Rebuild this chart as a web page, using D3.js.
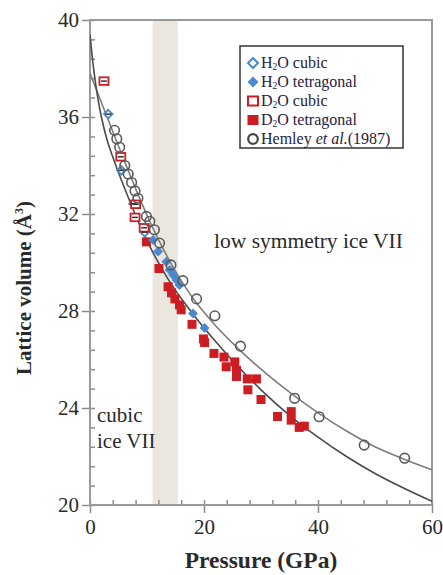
<!DOCTYPE html>
<html><head><meta charset="utf-8">
<script src="https://cdn.jsdelivr.net/npm/d3@7"></script>
<style>html,body{margin:0;padding:0;background:#fff;}svg{display:block;}</style>
</head><body>
<svg id="c" width="443" height="575"></svg>
<script>
// ---- data (pressure GPa, lattice volume Å^3) ----
const xMajorTicks = [0, 20, 40, 60];
const yMajorTicks = [20, 24, 28, 32, 36, 40];
const transitionBand = [11.0, 15.4];

const h2oCubic = [[3.2, 36.12], [5.5, 33.8], [7.6, 32.42], [9.6, 31.25]];
const h2oTetragonal = [[11.07, 30.93], [11.95, 30.45], [13.4, 30.03], [14.0, 29.69], [14.6, 29.48],
  [15.2, 29.28], [15.7, 29.07], [18.07, 27.9], [20.1, 27.3]];
const d2oCubic = [[2.45, 37.48], [5.4, 34.36], [8.0, 32.4], [7.9, 31.86], [9.5, 31.43]];
const d2oTetragonal = [[9.9, 30.85], [12.1, 29.75], [13.7, 29.0], [14.3, 28.75], [14.9, 28.5],
  [15.7, 28.25], [16.0, 28.05], [17.9, 27.45], [19.9, 26.85], [20.1, 26.7], [21.75, 26.25],
  [23.5, 26.1], [23.9, 25.7], [25.4, 25.9], [25.7, 25.55], [25.7, 25.3], [27.6, 25.2],
  [29.2, 25.2], [27.7, 24.75], [30.0, 24.35], [32.9, 23.65], [35.3, 23.85], [35.3, 23.5],
  [36.7, 23.2], [37.6, 23.25]];
const hemley = [[4.3, 35.45], [4.7, 35.1], [5.2, 34.75], [6.1, 34.0], [6.7, 33.65], [7.3, 33.3],
  [7.9, 32.95], [8.4, 32.65], [9.9, 31.9], [10.5, 31.7], [11.3, 31.35], [12.2, 30.8],
  [14.2, 29.9], [16.3, 29.25], [18.7, 28.5], [21.9, 27.8], [26.4, 26.55], [35.9, 24.4],
  [40.2, 23.64], [48.1, 22.47], [55.2, 21.93]];
// fitted curves
const fitUpper = [[0, 37.8], [2, 36.6], [4, 35.4], [6, 34.2], [8, 33.05], [10, 31.95], [12, 30.95],
  [14, 30.05], [16, 29.25], [18, 28.55], [20, 27.95], [22, 27.4], [26, 26.45], [30, 25.6],
  [35, 24.65], [40, 23.8], [45, 23.05], [50, 22.4], [55, 21.9], [60, 21.45]];
const fitLower = [[0, 39.4], [0.5, 38.25], [1, 37.35], [1.5, 36.6], [2, 36.0], [3, 35.05], [4, 34.35],
  [6, 33.1], [8, 31.95], [10, 30.9], [14, 29.2], [18, 27.9], [22, 26.75], [26, 25.7], [30, 24.75],
  [35, 23.7], [40, 22.8], [45, 22.0], [50, 21.3], [55, 20.7], [60, 20.15]];

// ---- layout ----
const svg = d3.select("#c");
const L = 90, R = 432, T = 20, B = 505;
const x = d3.scaleLinear().domain([0, 60]).range([L, R]);
const y = d3.scaleLinear().domain([20, 40]).range([B, T]);
const serif = "'Liberation Serif','Times New Roman',serif";
const BLUE = "#4a88cf", RED = "#cc1d23", TXT = "#2a2a2a";

svg.append("defs").append("clipPath").attr("id", "clip")
  .append("rect").attr("x", L).attr("y", T).attr("width", R - L).attr("height", B - T);

// band
svg.append("rect").attr("x", x(transitionBand[0])).attr("y", T)
  .attr("width", x(transitionBand[1]) - x(transitionBand[0])).attr("height", B - T)
  .attr("fill", "#ebe7df");

// axes
const xMinor = d3.range(0, 60.001, 4);
const yMinor = d3.range(20, 40.001, 0.8);
const xAxis = svg.append("g").attr("transform", `translate(0,${B})`)
  .call(d3.axisBottom(x).tickValues(xMinor).tickSize(-5).tickFormat(""));
const xAxis2 = svg.append("g").attr("transform", `translate(0,${B})`)
  .call(d3.axisBottom(x).tickValues(xMajorTicks).tickSize(8).tickPadding(6).tickFormat(d3.format("d")));
const yAxis = svg.append("g").attr("transform", `translate(${L},0)`)
  .call(d3.axisLeft(y).tickValues(yMinor).tickSize(-5).tickFormat(""));
const yAxis2 = svg.append("g").attr("transform", `translate(${L},0)`)
  .call(d3.axisLeft(y).tickValues(yMajorTicks).tickSize(8).tickPadding(3).tickFormat(d3.format("d")));
[xAxis, xAxis2, yAxis, yAxis2].forEach(g => {
  g.select(".domain").remove();
  g.selectAll("line").attr("stroke", "#8c8c8c").attr("stroke-width", 1.5);
  g.selectAll("text").attr("font-family", serif).attr("font-size", 21).attr("fill", TXT);
});

// frame
svg.append("rect").attr("x", L).attr("y", T).attr("width", R - L).attr("height", B - T)
  .attr("fill", "none").attr("stroke", "#999").attr("stroke-width", 2);

// curves
const line = d3.line().x(d => x(d[0])).y(d => y(d[1])).curve(d3.curveMonotoneX);
const cg = svg.append("g").attr("clip-path", "url(#clip)");
cg.append("path").datum(fitUpper).attr("d", line).attr("fill", "none").attr("stroke", "#7d7d7d").attr("stroke-width", 1.6);
cg.append("path").datum(fitLower).attr("d", line).attr("fill", "none").attr("stroke", "#4a4a4a").attr("stroke-width", 1.6);

// markers
const diamond = s => `M0,${-s}L${s},0L0,${s}L${-s},0Z`;
const g = svg.append("g");
g.selectAll(".dt").data(d2oTetragonal).join("rect")
  .attr("x", d => x(d[0]) - 4.5).attr("y", d => y(d[1]) - 4.5).attr("width", 9).attr("height", 9)
  .attr("fill", RED);
g.selectAll(".ht").data(h2oTetragonal).join("path")
  .attr("transform", d => `translate(${x(d[0])},${y(d[1])})`).attr("d", diamond(5)).attr("fill", BLUE);
g.selectAll(".hc").data(h2oCubic).join("path")
  .attr("transform", d => `translate(${x(d[0])},${y(d[1])})`).attr("d", diamond(4.3))
  .attr("fill", "#fff").attr("stroke", BLUE).attr("stroke-width", 1.8);
g.selectAll(".dc").data(d2oCubic).join("rect")
  .attr("x", d => x(d[0]) - 4.5).attr("y", d => y(d[1]) - 3.8).attr("width", 9).attr("height", 7.6)
  .attr("fill", "#fff").attr("stroke", RED).attr("stroke-width", 1.8);
g.selectAll(".eb").data(h2oCubic.concat(d2oCubic)).join("line")
  .attr("x1", d => x(d[0]) - 3).attr("x2", d => x(d[0]) + 3)
  .attr("y1", d => y(d[1])).attr("y2", d => y(d[1])).attr("stroke", "#333").attr("stroke-width", 1.5);
g.selectAll(".hm").data(hemley).join("circle")
  .attr("cx", d => x(d[0])).attr("cy", d => y(d[1])).attr("r", 4.8)
  .attr("fill", "none").attr("stroke", "#5a5a5a").attr("stroke-width", 1.6);

// annotations
svg.append("text").attr("x", 214).attr("y", 248).attr("font-family", serif).attr("font-size", 21.5)
  .attr("fill", TXT).text("low symmetry ice VII");
svg.append("text").attr("x", 97).attr("y", 422).attr("font-family", serif).attr("font-size", 21)
  .attr("fill", TXT).text("cubic");
svg.append("text").attr("x", 97).attr("y", 448).attr("font-family", serif).attr("font-size", 21)
  .attr("fill", TXT).text("ice VII");

// axis titles
svg.append("text").attr("x", 261).attr("y", 568).attr("text-anchor", "middle")
  .attr("font-family", serif).attr("font-size", 23.5).attr("font-weight", "bold").attr("fill", TXT)
  .text("Pressure (GPa)");
const yt = svg.append("text").attr("transform", "translate(31,288) rotate(-90)").attr("text-anchor", "middle")
  .attr("font-family", serif).attr("font-size", 21).attr("font-weight", "bold").attr("fill", TXT);
yt.append("tspan").text("Lattice volume (Å");
yt.append("tspan").attr("font-size", 12).attr("dy", -8).text("3");
yt.append("tspan").attr("dy", 8).text(")");

// legend
const lg = svg.append("g");
lg.append("rect").attr("x", 240).attr("y", 46).attr("width", 163).attr("height", 102)
  .attr("fill", "#fff").attr("stroke", "#333").attr("stroke-width", 1.5);
const legendItems = [
  {pre: "H", sub: "2", post: "O cubic", kind: "hc"},
  {pre: "H", sub: "2", post: "O tetragonal", kind: "ht"},
  {pre: "D", sub: "2", post: "O cubic", kind: "dc"},
  {pre: "D", sub: "2", post: "O tetragonal", kind: "dt"},
  {pre: "Hemley ", it: "et al.", post: "(1987)", kind: "hm"}
];
legendItems.forEach((it, i) => {
  const by = 68 + i * 19, cy = by - 5, cx = 253;
  if (it.kind === "hc") lg.append("path").attr("transform", `translate(${cx},${cy})`).attr("d", diamond(5)).attr("fill", "#fff").attr("stroke", BLUE).attr("stroke-width", 2);
  if (it.kind === "ht") lg.append("path").attr("transform", `translate(${cx},${cy})`).attr("d", diamond(5.5)).attr("fill", BLUE);
  if (it.kind === "dc") lg.append("rect").attr("x", cx - 5).attr("y", cy - 4.5).attr("width", 10).attr("height", 9).attr("fill", "#fff").attr("stroke", RED).attr("stroke-width", 2);
  if (it.kind === "dt") lg.append("rect").attr("x", cx - 5.5).attr("y", cy - 5).attr("width", 11).attr("height", 10).attr("fill", RED);
  if (it.kind === "hm") lg.append("circle").attr("cx", cx).attr("cy", cy).attr("r", 4.8).attr("fill", "none").attr("stroke", "#444").attr("stroke-width", 2.2);
  const t = lg.append("text").attr("x", 261).attr("y", by).attr("font-family", serif).attr("font-size", 16).attr("fill", "#1f2240");
  t.append("tspan").text(it.pre);
  if (it.sub) {
    t.append("tspan").attr("font-size", 9.5).attr("dy", 2).text(it.sub);
    t.append("tspan").attr("dy", -2).text(it.post);
  } else {
    t.append("tspan").attr("font-style", "italic").text(it.it);
    t.append("tspan").text(it.post);
  }
});
</script>
</body></html>
